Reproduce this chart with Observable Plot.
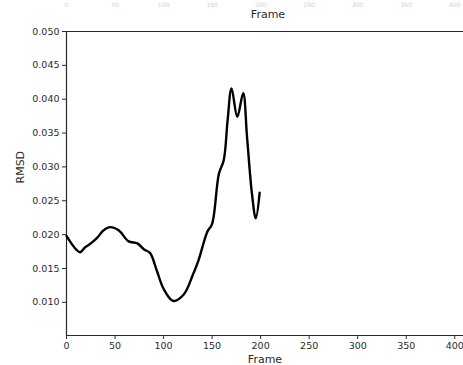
<!DOCTYPE html>
<html>
<head>
<meta charset="utf-8">
<script src="https://cdn.jsdelivr.net/npm/d3@7"></script>
<script src="https://cdn.jsdelivr.net/npm/@observablehq/plot@0.6"></script>
<style>
  html, body { margin: 0; padding: 0; background: #fff; overflow: hidden; }
  svg { display: block; }
</style>
</head>
<body>
<div id="chart"></div>
<script>
const frames = [0,5,10,14,19,25,32,38,45,54,64,73,80,86,93,100,110,121,130,136,145,150,157,162,166,170,176,182,186,191,195,199];
const rmsd = [0.0198,0.0187,0.0178,0.0174,0.0181,0.0187,0.0196,0.0206,0.0211,0.0206,0.0190,0.0187,0.0178,0.0173,0.0147,0.0120,0.0102,0.0112,0.0140,0.0162,0.0204,0.0216,0.0290,0.0310,0.0369,0.0416,0.0374,0.0409,0.0344,0.0261,0.0224,0.0262];
const xTicks = [0,50,100,150,200,250,300,350,400];
const yTicks = [0.010,0.015,0.020,0.025,0.030,0.035,0.040,0.045,0.050];
const xLabel = "Frame";
const yLabel = "RMSD";

const data = frames.map((f, i) => ({frame: f, rmsd: rmsd[i]}));
const ink = "#2a2a2a";

const chart = Plot.plot({
  width: 463,
  height: 365,
  marginLeft: 66,
  marginRight: 0,
  marginTop: 31,
  marginBottom: 30,
  style: {fontFamily: "DejaVu Sans", fontSize: "9.5px", color: ink, background: "#fff"},
  x: {domain: [0, 409], ticks: xTicks, tickSize: 4, tickPadding: 3, label: null},
  y: {domain: [0.0051, 0.050], ticks: yTicks, tickFormat: d3.format(".3f"), tickSize: 4, tickPadding: 3, label: null},
  marks: [
    Plot.axisX({ticks: xTicks, tickSize: 4, tickPadding: 3, stroke: ink, label: null}),
    Plot.axisY({ticks: yTicks, tickFormat: d3.format(".3f"), tickSize: 4, tickPadding: 3, stroke: ink, label: null}),
    Plot.ruleX([0], {stroke: ink, strokeWidth: 1.2}),
    Plot.frame({anchor: "bottom", stroke: ink, strokeWidth: 1.2}),
    Plot.frame({anchor: "top", stroke: ink, strokeWidth: 1.2}),
    Plot.line(data, {x: "frame", y: "rmsd", stroke: "#000", strokeWidth: 2.4, curve: "catmull-rom"}),
    Plot.text([xLabel], {frameAnchor: "bottom", lineAnchor: "middle", dy: 24, fontSize: 11, fill: ink}),
    Plot.text([yLabel], {frameAnchor: "left", dx: -46, rotate: -90, fontSize: 11, fill: ink}),
    Plot.text([xLabel], {frameAnchor: "top", lineAnchor: "middle", dy: -17, dx: 3, fontSize: 11, fill: ink}),
    Plot.text(xTicks, {x: d => d, frameAnchor: "top", lineAnchor: "middle", dy: -26, fontSize: 6, fill: "#d0d0d0", text: d => String(d)})
  ]
});
document.getElementById("chart").appendChild(chart);
</script>
</body>
</html>
